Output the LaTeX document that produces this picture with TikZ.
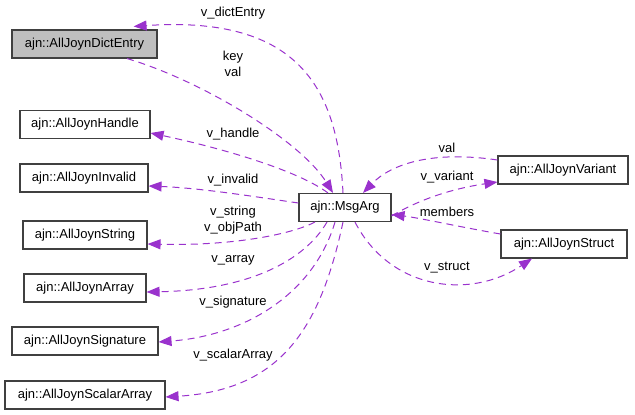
\documentclass[tikz,border=0pt]{standalone}
\usepackage{fontspec}
\setmainfont{Liberation Sans}
\usepackage{xcolor}
\usetikzlibrary{arrows.meta}
\definecolor{usagecol}{HTML}{9A32CD}
\definecolor{boxgray}{HTML}{BFBFBF}

\begin{document}
\begin{tikzpicture}[
  x=1pt, y=-1pt,
  font=\fontsize{13}{16}\selectfont,
  cls/.style={draw=black!75, line width=1.1pt, fill=white, minimum height=28pt, inner xsep=2pt, inner ysep=0pt},
  lbl/.style={inner sep=0pt, align=center},
  usage/.style={-{Triangle[length=13pt, width=10pt]}, usagecol, line width=1pt, dash pattern=on 7pt off 5pt}
]
\useasboundingbox (0,0) rectangle (635,415);

% classes
\node[cls, fill=boxgray, minimum width=145pt] (dictentry) at (84.5,44) {ajn::AllJoynDictEntry};
\node[cls, minimum width=130pt] (handle) at (85,124.5) {ajn::AllJoynHandle};
\node[cls, minimum width=128pt] (invalid) at (84,178) {ajn::AllJoynInvalid};
\node[cls, minimum width=124pt] (string) at (85,235) {ajn::AllJoynString};
\node[cls, minimum width=122pt] (array) at (85,288) {ajn::AllJoynArray};
\node[cls, minimum width=146pt] (signature) at (85,341) {ajn::AllJoynSignature};
\node[cls, minimum width=160pt] (scalararray) at (85,395) {ajn::AllJoynScalarArray};
\node[cls, minimum width=92pt] (msgarg) at (345,207.5) {ajn::MsgArg};
\node[cls, minimum width=130pt] (variant) at (563,170) {ajn::AllJoynVariant};
\node[cls, minimum width=126pt] (struct) at (564,244) {ajn::AllJoynStruct};

% edge labels
\node[lbl] (l_dict) at (233,13) {v\_dictEntry};
\node[lbl] (l_keyval) at (233,63.5) {key\\val};
\node[lbl] (l_handle) at (233,134) {v\_handle};
\node[lbl] (l_invalid) at (233,180) {v\_invalid};
\node[lbl] (l_string) at (233,220) {v\_string\\v\_objPath};
\node[lbl] (l_array) at (233,260) {v\_array};
\node[lbl] (l_sig) at (233,302) {v\_signature};
\node[lbl] (l_scalar) at (233,355) {v\_scalarArray};
\node[lbl] (l_val) at (447,148) {val};
\node[lbl] (l_variant) at (447,177) {v\_variant};
\node[lbl] (l_members) at (447,212) {members};
\node[lbl] (l_struct) at (447,268) {v\_struct};

% usage relations
\draw[usage] ([xshift=-2pt]msgarg.north) .. controls (338,90) and (300,15) .. ([xshift=-24pt,yshift=3pt]dictentry.north east);
\draw[usage] ([xshift=42.5pt]dictentry.south) .. controls (200,80) and (300,140) .. ([xshift=-12pt]msgarg.north);
\draw[usage] ([xshift=-17pt]msgarg.north) .. controls (300,172) and (230,150) .. ([yshift=-8.5pt]handle.east);
\draw[usage] ([yshift=4.5pt]msgarg.west) .. controls (250,196) and (200,188) .. ([yshift=-8pt]invalid.east);
\draw[usage] ([xshift=-30pt]msgarg.south) .. controls (290,235) and (230,246) .. ([yshift=-9pt]string.east);
\draw[usage] ([xshift=-18pt]msgarg.south) .. controls (305,260) and (250,290) .. ([yshift=-4pt]array.east);
\draw[usage] ([xshift=-10pt]msgarg.south) .. controls (315,290) and (250,335) .. ([yshift=-1pt]signature.east);
\draw[usage] ([xshift=-2pt]msgarg.south) .. controls (320,330) and (280,390) .. ([yshift=-2pt]scalararray.east);
\draw[usage] ([yshift=10pt]variant.west) .. controls (430,150) and (390,165) .. ([xshift=18pt]msgarg.north);
\draw[usage] ([yshift=-8.5pt]msgarg.east) .. controls (430,193) and (470,186) .. ([yshift=-12pt]variant.west);
\draw[usage] ([yshift=10pt]struct.west) .. controls (460,227) and (420,218) .. ([yshift=-7pt]msgarg.east);
\draw[usage] ([xshift=10pt]msgarg.south) .. controls (390,290) and (470,300) .. ([xshift=-32pt]struct.south);
\end{tikzpicture}
\end{document}
